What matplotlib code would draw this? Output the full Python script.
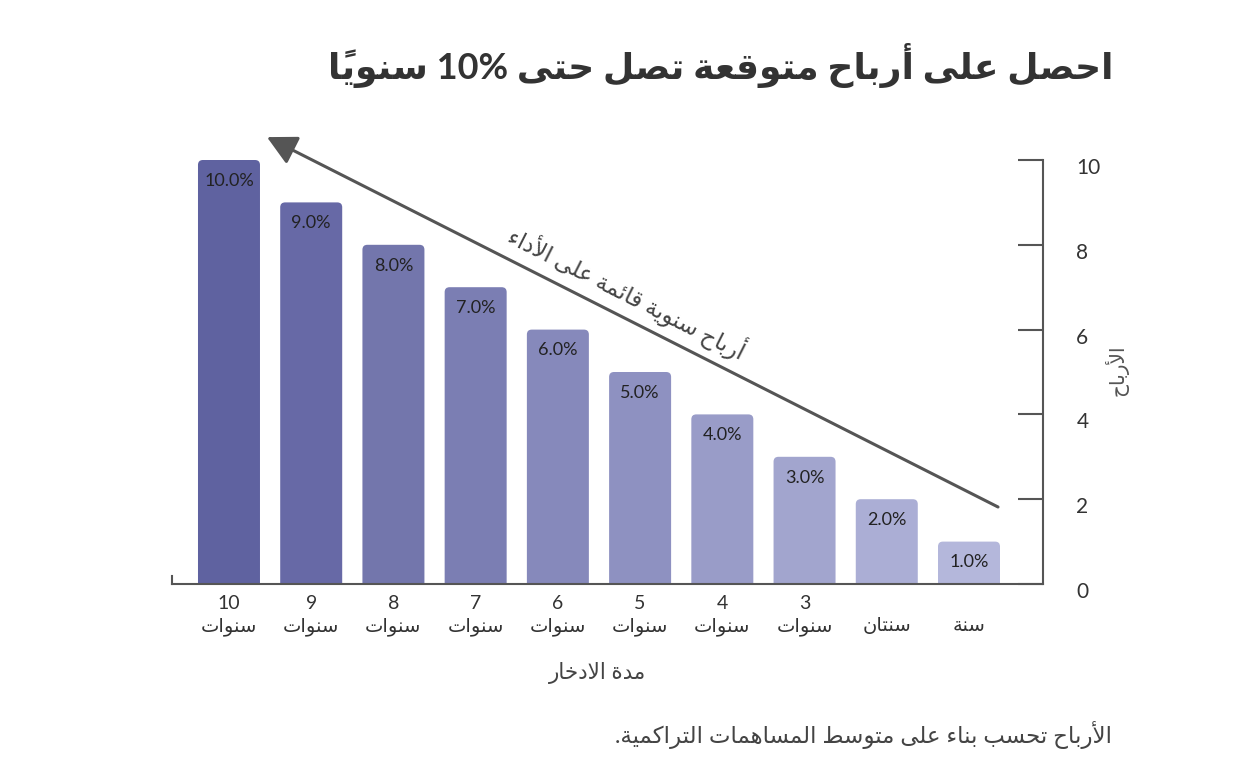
import matplotlib
matplotlib.use('Agg')
import matplotlib.pyplot as plt
from matplotlib.patches import FancyBboxPatch, ArrowStyle
from matplotlib.transforms import ScaledTranslation

# ---------------- data ----------------
year_numbers = ['', '', '3', '4', '5', '6', '7', '8', '9', '10']
year_words = ['سنة', 'سنتان', 'سنوات', 'سنوات', 'سنوات', 'سنوات', 'سنوات', 'سنوات', 'سنوات', 'سنوات']
returns = [1.0, 2.0, 3.0, 4.0, 5.0, 6.0, 7.0, 8.0, 9.0, 10.0]
bar_colors = ['#b4b7db', '#abaed5', '#a2a5ce', '#999cc8', '#8e91c1', '#8689bb', '#7b7eb3', '#7376ac', '#6769a6', '#5f62a0']
y_ticks = [0, 2, 4, 6, 8, 10]
title_text = 'احصل على أرباح متوقعة تصل حتى 10% سنوياً'
arrow_text = 'أرباح سنوية قائمة على الأداء'
x_label = 'مدة الادخار'
y_label = 'الأرباح'
note_text = 'الأرباح تحسب بناء على متوسط المساهمات التراكمية.'

# ---------------- minimal Arabic shaping ----------------
_TABLE = [
    ('\u0621', 0xFE80, 1), ('\u0622', 0xFE81, 2), ('\u0623', 0xFE83, 2), ('\u0624', 0xFE85, 2),
    ('\u0625', 0xFE87, 2), ('\u0626', 0xFE89, 4), ('\u0627', 0xFE8D, 2), ('\u0628', 0xFE8F, 4),
    ('\u0629', 0xFE93, 2), ('\u062A', 0xFE95, 4), ('\u062B', 0xFE99, 4), ('\u062C', 0xFE9D, 4),
    ('\u062D', 0xFEA1, 4), ('\u062E', 0xFEA5, 4), ('\u062F', 0xFEA9, 2), ('\u0630', 0xFEAB, 2),
    ('\u0631', 0xFEAD, 2), ('\u0632', 0xFEAF, 2), ('\u0633', 0xFEB1, 4), ('\u0634', 0xFEB5, 4),
    ('\u0635', 0xFEB9, 4), ('\u0636', 0xFEBD, 4), ('\u0637', 0xFEC1, 4), ('\u0638', 0xFEC5, 4),
    ('\u0639', 0xFEC9, 4), ('\u063A', 0xFECD, 4), ('\u0641', 0xFED1, 4), ('\u0642', 0xFED5, 4),
    ('\u0643', 0xFED9, 4), ('\u0644', 0xFEDD, 4), ('\u0645', 0xFEE1, 4), ('\u0646', 0xFEE5, 4),
    ('\u0647', 0xFEE9, 4), ('\u0648', 0xFEED, 2), ('\u0649', 0xFEEF, 2), ('\u064A', 0xFEF1, 4),
]
FORMS = {c: (b, t) for c, b, t in _TABLE}
LAMALEF = {'\u0622': 0xFEF5, '\u0623': 0xFEF7, '\u0625': 0xFEF9, '\u0627': 0xFEFB}


def _transparent(it):
    return isinstance(it, str) and len(it) == 1 and ('\u064B' <= it <= '\u065F' or it == '\u0670')


def _ar_line(text):
    items = []
    i = 0
    while i < len(text):
        c = text[i]
        if c == '\u0644' and i + 1 < len(text) and text[i + 1] in LAMALEF:
            items.append(('LA', text[i + 1]))
            i += 2
        else:
            items.append(c)
            i += 1

    def jp(it):
        if isinstance(it, tuple):
            return True
        return it in FORMS and FORMS[it][1] > 1

    def jn(it):
        if isinstance(it, tuple):
            return False
        return it in FORMS and FORMS[it][1] == 4

    shaped = []
    for k, it in enumerate(items):
        if _transparent(it) or not (isinstance(it, tuple) or it in FORMS):
            shaped.append(it)
            continue
        p = k - 1
        while p >= 0 and _transparent(items[p]):
            p -= 1
        n = k + 1
        while n < len(items) and _transparent(items[n]):
            n += 1
        cp = p >= 0 and jn(items[p]) and jp(it)
        cn = n < len(items) and jn(it) and jp(items[n])
        if isinstance(it, tuple):
            shaped.append(chr(LAMALEF[it[1]] + (1 if cp else 0)))
        else:
            base, typ = FORMS[it]
            if typ == 1:
                off = 0
            elif typ == 2:
                off = 1 if cp else 0
            else:
                off = 3 if (cp and cn) else (1 if cp else (2 if cn else 0))
            shaped.append(chr(base + off))
    clusters = []
    for ch in shaped:
        if _transparent(ch) and clusters:
            clusters[-1] += ch
        else:
            clusters.append(ch)
    clusters.reverse()

    def ltr(c):
        return c[0].isascii() and (c[0].isalnum() or c[0] in '%.,+-')

    out, run = [], []
    for c in clusters:
        if ltr(c):
            run.append(c)
        else:
            if run:
                out.extend(reversed(run))
                run = []
            out.append(c)
    if run:
        out.extend(reversed(run))
    return ''.join(out)


def ar(text):
    return '\n'.join(_ar_line(l) for l in text.split('\n'))


# ---------------- figure ----------------
FONT = ['Lato', 'DejaVu Sans']
plt.rcParams['font.family'] = FONT

W, H = 1235, 760
fig = plt.figure(figsize=(W / 100, H / 100), dpi=100)
fig.patch.set_facecolor('white')

ax_left, ax_right, ax_bottom, ax_top = 172, 1043, 584, 134.56
ax = fig.add_axes([ax_left / W, (H - ax_bottom) / H, (ax_right - ax_left) / W, (ax_bottom - ax_top) / H])
ax.set_facecolor('white')

xpos = list(range(len(returns)))
bar_w = 0.754
bars = ax.bar(xpos, returns, width=bar_w, color=bar_colors, zorder=2)
aspect = 82.22 / 42.4
for rect, col in zip(bars, bar_colors):
    x0 = rect.get_x()
    wdt = rect.get_width()
    ht = rect.get_height()
    rect.remove()
    fb = FancyBboxPatch((x0, -1.0), wdt, ht + 1.0,
                        boxstyle='round,pad=0,rounding_size=0.06',
                        mutation_aspect=aspect, fc=col, ec='none', zorder=2)
    ax.add_patch(fb)

for x, v in zip(xpos, returns):
    ax.annotate(f'{v:.1f}%', (x, v), xytext=(0, -15), textcoords='offset points',
                ha='center', va='center', fontsize=13, color='#222222', zorder=3)

ax.set_ylim(0, 10.6)
ax.set_xlim(9.693, -0.900)

# spines
ax.spines['top'].set_visible(False)
for s in ['right', 'bottom', 'left']:
    ax.spines[s].set_color('#555555')
    ax.spines[s].set_linewidth(1.5)
ax.spines['right'].set_bounds(0, 10)
ax.spines['left'].set_bounds(0, 0.19)

# y ticks on the right
ax.yaxis.tick_right()
ax.set_yticks(y_ticks)
ax.set_yticklabels([str(t) for t in y_ticks])
ax.tick_params(axis='y', direction='in', length=18, width=1.5, color='#555555',
               pad=24, labelsize=15, labelcolor='#333333')
off = ScaledTranslation(0, -0.06, fig.dpi_scale_trans)
for lab in ax.get_yticklabels():
    lab.set_transform(lab.get_transform() + off)

# x tick labels
xlabels = [f'{n}\n{ar(w)}' for n, w in zip(year_numbers, year_words)]
ax.set_xticks(xpos)
ax.set_xticklabels(xlabels, linespacing=1.35)
ax.tick_params(axis='x', length=0, pad=8, labelsize=14, labelcolor='#333333')

# arrow
ax.annotate('', xy=(8.538, 10.54), xytext=(-0.353, 1.816),
            arrowprops=dict(arrowstyle=ArrowStyle('-|>', head_length=0.6, head_width=0.31),
                            color='#555555', lw=2.2, mutation_scale=30,
                            shrinkA=0, shrinkB=0), zorder=4, annotation_clip=False)
ax.text(4.16, 6.86, ar(arrow_text), rotation=-26.85, rotation_mode='anchor',
        ha='center', va='center', fontsize=16.5, color='#444444', zorder=4)

# texts
fig.text(1113 / W, 1 - 65 / H, ar(title_text), ha='right', va='center',
         fontsize=26, fontweight='bold', color='#333333')
fig.text(598 / W, 1 - 673 / H, ar(x_label), ha='center', va='center',
         fontsize=15.5, color='#444444')
fig.text(1116 / W, 1 - 370 / H, ar(y_label), ha='center', va='center',
         rotation=90, fontsize=14.5, color='#555555')
fig.text(1112 / W, 1 - 735 / H, ar(note_text), ha='right', va='center',
         fontsize=16.5, color='#444444')

fig.savefig('out.png', dpi=100, facecolor='white')
